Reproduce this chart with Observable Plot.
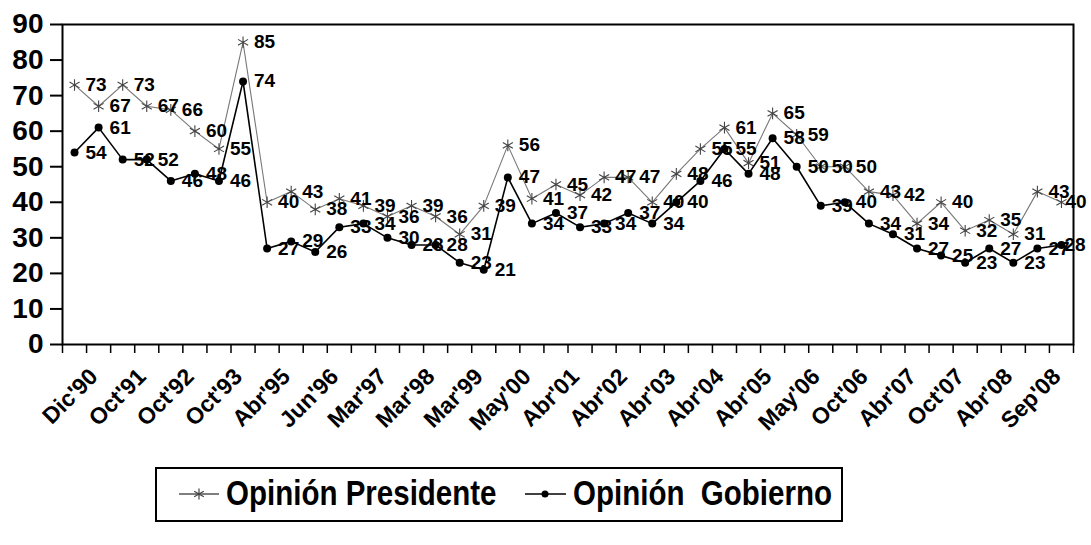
<!DOCTYPE html>
<html>
<head>
<meta charset="utf-8">
<script src="https://cdn.jsdelivr.net/npm/d3@7"></script>
<script src="https://cdn.jsdelivr.net/npm/@observablehq/plot@0.6"></script>
<style>
  html, body { margin: 0; padding: 0; background: #fff; }
  #wrap { position: relative; width: 1091px; height: 545px; font-family: "Liberation Sans", Arial, sans-serif; }
  #legend { position: absolute; left: 155px; top: 467px; }
</style>
</head>
<body>
<div id="wrap">
  <div id="chart"></div>
  <div id="legend">
    <svg width="690" height="57" xmlns="http://www.w3.org/2000/svg" style="font-family:'Liberation Sans',Arial,sans-serif">
      <rect x="1" y="1" width="686" height="53" fill="#fff" stroke="#000" stroke-width="2"/>
      <line x1="24" x2="64" y1="27" y2="27" stroke="#555" stroke-width="1.5"/>
      <path d="M44,21.5V32.5M39.2,24.2L48.8,29.8M39.2,29.8L48.8,24.2" stroke="#444" stroke-width="1.2" fill="none"/>
      <text transform="translate(71,38) scale(0.82,1)" font-size="36" font-weight="bold">Opinión Presidente</text>
      <line x1="370" x2="411" y1="27" y2="27" stroke="#000" stroke-width="1.6"/>
      <circle cx="390" cy="27" r="3.5" fill="#000"/>
      <text transform="translate(418,38) scale(0.82,1)" font-size="36" font-weight="bold" xml:space="preserve">Opinión  Gobierno</text>
    </svg>
  </div>
</div>
<script>
// Tick labels (every second survey date)
const tickLabels = ["Dic'90","Oct'91","Oct'92","Oct'93","Abr'95","Jun'96","Mar'97","Mar'98","Mar'99","May'00",
  "Abr'01","Abr'02","Abr'03","Abr'04","Abr'05","May'06","Oct'06","Abr'07","Oct'07","Abr'08","Sep'08"];

// Opinión Presidente (42 surveys)
const presidente = [73, 67, 73, 67, 66, 60, 55, 85, 40, 43, 38, 41, 39, 36, 39, 36, 31, 39, 56, 41, 45,
  42, 47, 47, 40, 48, 55, 61, 51, 65, 59, 50, 50, 43, 42, 34, 40, 32, 35, 31, 43, 40];

// Opinión Gobierno (42 surveys)
const gobierno = [54, 61, 52, 52, 46, 48, 46, 74, 27, 29, 26, 33, 34, 30, 28, 28, 23, 21, 47, 34, 37,
  33, 34, 37, 34, 40, 46, 55, 48, 58, 50, 39, 40, 34, 31, 27, 25, 23, 27, 23, 27, 28];

const yTicks = [0, 10, 20, 30, 40, 50, 60, 70, 80, 90];

const pres = presidente.map((v, i) => ({i, value: v}));
const gob = gobierno.map((v, i) => ({i, value: v}));
const n = presidente.length;
const isLast = d => d.i === n - 1;

const font = "'Liberation Sans', Arial, sans-serif";
const labelOpts = {x: "i", y: "value", text: d => String(d.value), textAnchor: "start",
  fontSize: 19, fontWeight: "bold", fill: "#000"};

const chart = Plot.plot({
  width: 1091,
  height: 462,
  marginLeft: 62,
  marginRight: 18,
  marginTop: 24,
  marginBottom: 118,
  style: {fontFamily: font, background: "#fff", color: "#000", overflow: "visible"},
  x: {domain: [-0.5, n - 0.5]},
  y: {domain: [0, 90]},
  marks: [
    Plot.axisY({ticks: yTicks, tickSize: 12, tickPadding: 7, fontSize: 28, fontWeight: "bold", label: null, strokeWidth: 2}),
    Plot.axisX({ticks: d3.range(n + 1).map(k => k - 0.5), tickFormat: () => "", tickSize: 9, label: null, strokeWidth: 1.5}),
    Plot.axisX({ticks: d3.range(0, n, 2), tickFormat: i => tickLabels[i / 2], tickSize: 0, tickPadding: 22,
      rotate: -45, tickRotate: -45, textAnchor: "end", lineAnchor: "top", dx: 13, fontSize: 23, fontWeight: "bold", label: null}),
    Plot.frame({stroke: "#000", strokeWidth: 2}),
    Plot.line(pres, {x: "i", y: "value", stroke: "#777", strokeWidth: 1.1}),
    Plot.dot(pres, {x: "i", y: "value", symbol: "asterisk", r: 5.5, stroke: "#444", strokeWidth: 1.1}),
    Plot.line(gob, {x: "i", y: "value", stroke: "#000", strokeWidth: 1.6}),
    Plot.dot(gob, {x: "i", y: "value", r: 4, fill: "#000", stroke: "none"}),
    Plot.text(pres, {...labelOpts, filter: d => !isLast(d), dx: 11}),
    Plot.text(gob, {...labelOpts, filter: d => !isLast(d), dx: 11}),
    Plot.text(pres, {...labelOpts, filter: isLast, dx: 4}),
    Plot.text(gob, {...labelOpts, filter: isLast, dx: 3})
  ]
});
document.getElementById("chart").appendChild(chart);
</script>
</body>
</html>
